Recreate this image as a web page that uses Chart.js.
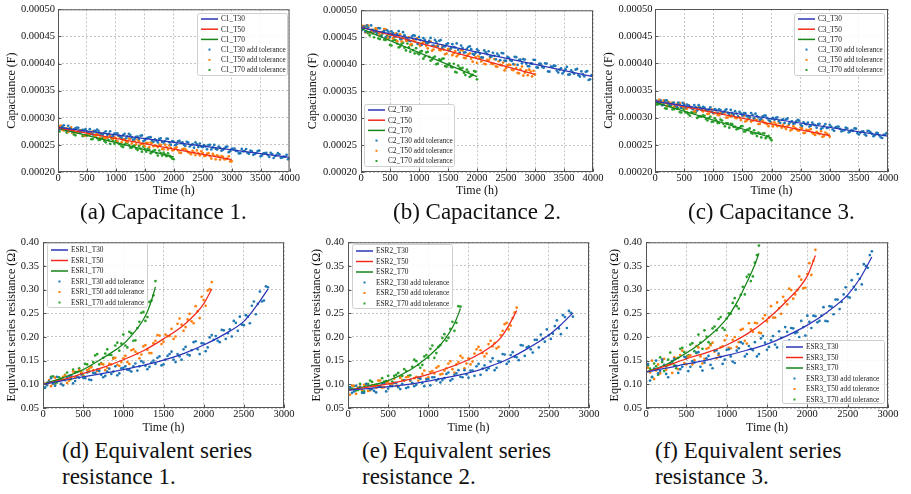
<!DOCTYPE html>
<html>
<head>
<meta charset="utf-8">
<script src="https://cdn.jsdelivr.net/npm/chart.js@4.4.0/dist/chart.umd.min.js"></script>
<style>
  body { margin: 0; background: #fff; width: 911px; height: 494px; position: relative; overflow: hidden;
         font-family: "Liberation Serif", "Times New Roman", serif; }
  .panel { position: absolute; }
  .panel canvas { display: block; }
  .cap { position: absolute; font-size: 23px; line-height: 26px; color: #111; white-space: nowrap; }
</style>
</head>
<body>
<div class="panel" style="left:0px;top:0px"><canvas id="cA" width="300" height="200"></canvas></div>
<div class="panel" style="left:300px;top:0px"><canvas id="cB" width="305" height="200"></canvas></div>
<div class="panel" style="left:598px;top:0px"><canvas id="cC" width="313" height="200"></canvas></div>
<div class="panel" style="left:0px;top:232px"><canvas id="cD" width="300" height="205"></canvas></div>
<div class="panel" style="left:300px;top:232px"><canvas id="cE" width="305" height="205"></canvas></div>
<div class="panel" style="left:600px;top:232px"><canvas id="cF" width="311" height="205"></canvas></div>

<div class="cap" style="left:80px;top:199px">(a) Capacitance 1.</div>
<div class="cap" style="left:393px;top:199px">(b) Capacitance 2.</div>
<div class="cap" style="left:688px;top:199px">(c) Capacitance 3.</div>
<div class="cap" style="left:62px;top:438px">(d) Equivalent series<br>resistance 1.</div>
<div class="cap" style="left:362px;top:438px">(e) Equivalent series<br>resistance 2.</div>
<div class="cap" style="left:655px;top:438px">(f) Equivalent series<br>resistance 3.</div>

<script>
const SERIF = '"Liberation Serif", "Times New Roman", serif';

// sample times (h): readings on the 50 h grid, plus the in-between readings at +25 h
function steps(end) { const a = []; for (let t = 0; t <= end; t += 50) a.push(t); return a; }
function halfSteps(end) { const a = []; for (let t = 25; t < end; t += 50) a.push(t); return a; }
const tCap30 = steps(4000), tCap50 = steps(3000), tCap70 = steps(2000);
const tCap30b = halfSteps(4000), tCap50b = halfSteps(3000), tCap70b = halfSteps(2000);
const tEsr30 = steps(2800), tEsr50 = steps(2100), tEsr70 = steps(1400);
const tEsr30b = halfSteps(2800), tEsr50b = halfSteps(2100), tEsr70b = halfSteps(1400);

const capTicksX = [0, 500, 1000, 1500, 2000, 2500, 3000, 3500, 4000];
const esrTicksX = [0, 500, 1000, 1500, 2000, 2500, 3000];

// ---- capacitance, values in µF ----
const c1Line30 = [282.5, 227.0], c1Line50 = [281.5, 223.0], c1Line70 = [280.5, 228.0];
const c2Line30 = [468.0, 377.0], c2Line50 = [469.0, 381.0], c2Line70 = [466.0, 377.0];
const c3Line30 = [330.0, 266.0], c3Line50 = [331.0, 267.0], c3Line70 = [328.0, 263.0];

const c1s30 = [285.5,279.8,286.1,276.4,280.7,274.0,280.3,281.6,273.9,276.3,
  274.6,278.9,269.2,275.5,275.8,268.1,272.4,268.7,275.0,266.3,
  270.6,266.9,263.2,270.5,265.8,268.2,259.5,264.8,261.1,267.4,
  258.7,263.0,264.3,255.6,257.9,261.2,255.5,256.8,261.1,250.4,
  255.7,251.0,257.4,254.7,248.0,254.3,249.6,244.9,251.2,252.5,
  245.8,247.1,249.4,241.7,250.0,241.3,244.6,240.9,246.2,236.6,
  242.9,243.2,238.5,234.8,238.1,242.4,233.7,238.0,233.3,238.6,
  228.9,234.2,235.5,227.8,233.1,229.4,234.8,226.1,228.4,231.7,225.0];
const c1s30b = [278.2,283.5,279.8,285.1,276.4,278.7,282.0,272.3,277.6,278.9,
  273.3,270.6,275.9,278.2,271.5,268.8,275.1,270.4,264.7,271.0,
  271.3,265.6,267.9,262.2,270.5,263.8,261.2,265.5,266.8,257.1,
  261.4,263.7,258.0,260.3,254.6,261.9,254.2,261.5,254.8,257.1,
  249.4,256.7,253.1,250.4,255.7,247.0,251.3,254.6,245.9,247.2,
  249.5,241.8,250.1,245.4,242.7,247.0,239.3,243.6,246.9,238.3,
  242.6,238.9,234.2,242.5,238.8,235.1,239.4,231.7,235.0,239.3,
  230.6,234.9,231.2,235.5,225.8,231.1,232.5,226.8,228.1,223.4];
const c1s50 = [279.5,285.5,276.6,280.6,276.6,272.6,279.7,274.7,276.7,267.7,
  272.8,268.8,274.8,265.8,269.9,270.9,261.9,263.9,266.9,261.0,
  262.0,266.0,255.0,260.1,255.1,261.1,258.2,251.2,257.2,252.2,
  247.3,253.3,254.3,247.3,248.4,250.4,242.4,250.4,241.5,244.5,
  240.5,245.5,235.6,241.6,241.6,236.6,232.7,235.7,239.7,230.7,
  234.8,229.8,234.8,224.8,229.9,230.9,222.9,227.9,223.9,229.0,220.0];
const c1s50b = [284.0,278.0,280.1,274.1,282.1,275.1,272.2,276.2,277.2,267.2,
  271.3,273.3,267.3,269.3,263.4,270.4,262.4,269.4,262.5,264.5,
  256.5,263.5,259.6,256.6,261.6,252.6,256.7,259.7,250.7,251.7,
  253.8,245.8,253.8,248.8,245.9,249.9,241.9,245.9,249.0,240.0,
  244.0,240.0,235.1,243.1,239.1,235.1,239.2,231.2,234.2,238.2,
  229.3,233.3,229.3,233.3,223.4,228.4,229.4,223.4,224.5,219.5];
const c1s70 = [277.5,283.2,279.9,272.6,278.3,272.9,267.6,273.3,274.0,266.7,
  267.4,269.1,260.8,268.4,259.1,261.8,257.5,262.2,251.9,257.6,
  257.3,251.9,247.6,250.3,254.0,244.7,248.4,243.1,247.8,237.4,
  242.1,242.8,234.5,239.2,234.9,239.6,230.3,231.9,234.6,227.3,223.5];
const c1s70b = [274.8,281.5,277.2,273.9,278.6,269.2,272.9,275.6,266.3,267.0,
  268.7,260.4,268.1,262.7,259.4,263.1,254.8,258.5,261.2,251.9,
  255.6,251.2,245.9,253.6,249.3,245.0,248.7,240.4,243.1,246.7,
  237.4,241.1,236.8,240.5,230.2,234.9,235.6,229.2,229.9,224.6];

const c2s30 = [460.0,469.9,471.7,459.6,463.5,460.3,467.2,452.0,461.9,462.8,
  450.6,457.5,451.4,461.2,447.1,453.9,447.8,442.7,453.5,446.4,
  450.3,436.1,445.0,438.8,448.7,434.6,441.4,443.3,430.2,433.0,
  438.9,429.7,431.6,438.5,421.3,430.2,422.1,431.9,427.8,417.6,
  427.5,419.4,412.2,422.1,424.0,413.8,415.7,419.5,407.4,420.3,
  406.1,412.0,405.9,413.7,398.6,408.4,409.3,401.2,396.0,400.9,
  407.8,393.6,400.5,393.3,401.2,386.1,394.9,396.8,384.7,392.5,
  386.4,395.2,381.1,385.0,389.8,379.7,386.6,377.4,387.3,372.1,379.0];
const c2s30b = [464.4,460.3,468.1,472.0,460.9,456.7,466.6,459.4,450.3,460.2,
  461.0,451.9,455.8,446.6,459.5,448.3,444.2,451.1,452.9,437.8,
  444.7,448.5,439.4,443.2,434.1,445.0,432.8,444.7,433.6,437.4,
  425.3,437.1,431.0,426.9,434.7,421.6,428.5,433.3,419.2,421.0,
  424.9,412.8,425.6,418.5,414.4,421.2,409.1,415.9,420.8,406.7,
  413.5,407.4,400.3,413.1,408.0,401.8,408.7,396.6,401.4,408.3,
  394.2,401.0,394.9,401.7,386.6,395.5,397.3,388.2,390.1,382.9,
  390.8,380.6,388.5,382.4,391.2,377.1,381.0,385.8,370.7,379.6];
const c2s50 = [464.0,470.5,472.1,458.6,461.1,466.7,457.2,458.7,465.3,447.8,
  456.3,447.9,457.4,452.9,442.5,452.0,443.5,436.1,445.6,447.1,
  436.7,438.2,441.7,429.3,441.8,427.3,432.9,426.4,433.9,418.5,
  428.0,428.5,420.1,414.6,419.1,425.7,411.2,417.7,410.3,417.8,
  402.3,410.9,412.4,399.9,407.5,401.0,409.5,395.1,398.6,403.1,
  392.7,399.2,389.7,399.3,383.8,390.3,378.9,388.4,389.9,377.5,381.0];
const c2s50b = [471.3,458.8,471.4,463.9,459.4,466.0,453.5,460.0,464.6,450.1,
  456.6,450.2,442.7,455.2,449.8,443.3,449.8,437.4,441.9,448.4,
  434.0,440.5,434.0,440.6,425.1,433.6,435.2,425.7,427.2,419.8,
  427.3,416.8,424.4,417.9,426.4,412.0,415.5,420.0,404.6,413.1,
  414.6,405.2,400.7,408.2,411.8,400.3,395.8,405.4,397.9,388.4,
  398.0,398.5,389.0,392.6,383.1,395.6,384.2,379.7,386.2,387.8];
const c2s70 = [469.0,468.8,459.6,453.3,457.1,462.9,447.7,453.4,445.2,452.0,
  435.8,443.5,444.3,431.1,437.9,430.6,438.4,423.2,426.0,429.7,
  418.5,424.3,414.1,422.8,406.6,412.4,400.1,408.9,409.7,396.5,
  399.3,395.0,400.8,384.6,393.4,393.1,379.9,385.7,378.5,387.2,372.0];
const c2s70b = [464.9,467.7,457.5,460.2,450.0,459.8,446.6,457.3,445.1,447.9,
  434.7,445.4,438.2,433.0,439.8,425.5,431.3,435.1,419.9,420.6,
  423.4,410.2,421.9,413.7,408.5,414.3,401.0,406.8,410.6,395.4,
  401.1,393.9,385.7,397.5,391.2,384.0,389.8,376.6,380.3,386.1];

const c3s30 = [328.0,329.2,331.4,323.6,331.8,323.0,326.2,322.4,327.6,317.8,
  324.0,324.2,319.4,315.6,318.8,323.0,314.2,318.4,313.6,318.8,
  309.0,314.2,315.4,307.6,312.8,309.0,314.2,305.4,307.6,310.8,
  304.0,308.2,302.4,308.6,298.8,303.0,296.2,302.4,303.6,295.8,
  298.0,296.2,300.4,290.6,296.8,297.0,289.2,293.4,289.6,295.8,
  287.0,291.2,287.4,283.6,290.8,286.0,288.2,279.4,284.6,280.8,
  287.0,278.2,282.4,283.6,274.8,277.0,280.2,274.4,275.6,279.8,
  269.0,274.2,269.4,275.6,272.8,266.0,272.2,267.4,262.6,268.8,270.0];
const c3s30b = [331.6,327.8,323.0,331.2,327.4,323.6,327.8,320.0,323.2,327.4,
  318.6,322.8,319.0,323.2,313.4,318.6,319.8,314.0,315.2,310.4,
  315.6,308.8,314.0,310.2,315.4,306.6,308.8,312.0,302.2,307.4,
  308.6,302.8,300.0,305.2,307.4,300.6,297.8,304.0,299.2,293.4,
  299.6,299.8,294.0,296.2,290.4,298.6,291.8,289.0,293.2,294.4,
  284.6,288.8,291.0,285.2,287.4,281.6,288.8,281.0,288.2,281.4,
  283.6,275.8,283.0,279.2,276.4,281.6,272.8,277.0,280.2,271.4,
  272.6,274.8,267.0,275.2,270.4,267.6,271.8,264.0,268.2,271.4];
const c3s50 = [328.0,329.9,327.9,331.8,321.7,327.7,327.6,319.5,323.5,319.4,
  325.3,316.3,320.2,316.1,312.1,319.0,313.9,315.9,306.8,311.7,
  307.7,313.6,304.5,308.5,309.4,300.3,302.3,305.2,299.1,300.1,
  304.0,292.9,297.9,292.8,298.7,295.7,288.6,294.5,289.5,284.4,
  290.3,291.3,284.2,285.1,287.1,279.0,286.9,277.9,280.8,276.7,
  281.7,271.6,277.5,277.5,272.4,268.3,271.3,275.2,266.1,270.1,265.0];
const c3s50b = [330.5,333.4,323.4,328.3,329.2,323.2,320.1,325.0,327.0,319.9,
  316.8,322.8,317.7,311.6,317.6,317.5,311.4,313.4,307.3,315.2,
  308.2,305.1,309.0,310.0,299.9,303.8,305.8,299.7,301.6,295.6,
  303.5,294.4,301.4,294.3,296.2,288.2,295.1,291.0,288.0,292.9,
  283.8,287.8,290.7,281.6,282.6,284.5,276.4,284.4,279.3,276.2,
  280.2,272.1,276.0,279.0,269.9,273.8,269.8,264.7,272.6,268.6];
const c3s70 = [331.0,324.4,324.8,328.1,316.5,320.9,315.3,320.6,317.0,309.4,
  314.8,309.1,303.5,308.9,309.3,301.6,302.0,303.4,294.8,302.1,
  292.5,294.9,290.3,294.6,284.0,289.4,288.8,283.1,278.5,280.9,
  284.3,274.6,278.0,272.4,276.8,266.1,270.5,270.9,262.3,266.6,258.5];
const c3s70b = [324.2,329.6,323.9,317.3,322.7,322.1,315.5,316.8,310.2,317.6,
  310.0,306.3,309.7,310.1,299.5,302.8,304.2,297.6,299.0,292.3,
  298.7,290.1,296.5,288.8,290.2,281.6,288.0,283.3,279.7,284.1,
  274.5,277.8,280.2,270.6,271.0,272.3,263.7,271.1,265.5,261.8];

// ---- ESR, values in ohm ----
const e1LineT30 = [0,250,500,750,1000,1250,1500,1750,2000,2250,2500,2650,2800];
const e1Line30  = [0.100,0.108,0.116,0.123,0.131,0.140,0.151,0.165,0.183,0.205,0.233,0.264,0.301];
const e1LineT50 = [0,250,500,750,1000,1250,1500,1750,1900,2000,2100];
const e1Line50  = [0.100,0.110,0.123,0.136,0.152,0.171,0.196,0.225,0.249,0.270,0.301];
const e1LineT70 = [0,250,500,750,1000,1150,1200,1250,1300,1350,1400];
const e1Line70  = [0.100,0.114,0.131,0.156,0.185,0.213,0.224,0.237,0.254,0.277,0.306];

const e2LineT30 = [0,250,500,750,1000,1250,1500,1750,2000,2250,2500,2650,2800];
const e2Line30  = [0.0875,0.091,0.095,0.100,0.107,0.115,0.124,0.137,0.154,0.177,0.204,0.226,0.251];
const e2LineT50 = [0,250,500,750,1000,1250,1500,1750,1900,2000,2100];
const e2Line50  = [0.0875,0.094,0.101,0.110,0.121,0.135,0.152,0.176,0.198,0.224,0.256];
const e2LineT70 = [0,250,500,750,1000,1150,1200,1250,1300,1350,1400];
const e2Line70  = [0.0875,0.097,0.108,0.128,0.159,0.183,0.194,0.206,0.220,0.238,0.260];

const e3LineT30 = [0,250,500,750,1000,1250,1500,1750,2000,2250,2500,2650,2800];
const e3Line30  = [0.126,0.134,0.143,0.151,0.161,0.172,0.185,0.203,0.225,0.253,0.289,0.323,0.369];
const e3LineT50 = [0,250,500,750,1000,1250,1500,1750,2000,2100];
const e3Line50  = [0.126,0.139,0.154,0.167,0.183,0.206,0.237,0.277,0.329,0.372];
const e3LineT70 = [0,250,500,750,1000,1150,1250,1350,1400];
const e3Line70  = [0.126,0.142,0.166,0.197,0.239,0.280,0.315,0.353,0.377];

const e1s30 = [.106,.098,.113,.097,.108,.098,.114,.119,.107,.114,
  .114,.125,.109,.124,.128,.115,.127,.122,.138,.123,
  .135,.131,.127,.144,.138,.146,.132,.146,.143,.159,
  .142,.160,.169,.147,.159,.174,.163,.172,.191,.164,
  .186,.178,.204,.202,.189,.214,.208,.201,.230,.243,
  .225,.243,.266,.248,.296,.277,.305];
const e1s30b = [.093,.106,.102,.116,.101,.109,.118,.102,.116,.121,
  .113,.110,.124,.131,.120,.118,.133,.127,.119,.134,
  .138,.130,.138,.129,.149,.139,.137,.150,.156,.140,
  .152,.164,.152,.164,.152,.179,.161,.189,.174,.187,
  .170,.199,.194,.192,.215,.196,.216,.234,.213,.226,
  .246,.229,.275,.270,.275,.307];
const e1s50 = [.104,.100,.096,.114,.108,.116,.103,.117,.114,.130,
  .117,.130,.136,.123,.131,.142,.135,.142,.156,.139,
  .155,.147,.172,.169,.155,.180,.173,.166,.192,.203,
  .190,.202,.217,.201,.239,.213,.237,.233,.265,.240,
  .278,.298,.316];
const e1s50b = [.101,.109,.101,.109,.101,.119,.108,.127,.117,.126,
  .114,.133,.130,.128,.143,.130,.143,.154,.141,.147,
  .160,.143,.174,.165,.163,.183,.166,.187,.204,.185,
  .205,.202,.196,.228,.226,.221,.249,.229,.254,.285,
  .266,.301];
const e1s70 = [.092,.103,.116,.102,.115,.110,.125,.111,.126,.134,
  .119,.142,.138,.161,.142,.156,.174,.162,.182,.171,
  .205,.178,.208,.193,.232,.253,.242,.277,.318];
const e1s70b = [.093,.106,.117,.104,.111,.120,.109,.131,.126,.125,
  .143,.127,.147,.164,.145,.165,.162,.156,.188,.186,
  .182,.211,.192,.219,.251,.234,.274,.288];

const e2s30 = [.090,.082,.097,.094,.082,.097,.090,.083,.097,.102,
  .091,.096,.103,.090,.109,.094,.103,.099,.112,.096,
  .111,.115,.108,.104,.113,.125,.111,.123,.116,.130,
  .114,.129,.138,.120,.140,.134,.155,.135,.147,.163,
  .148,.168,.157,.183,.160,.180,.167,.194,.205,.190,
  .204,.207,.235,.206,.242,.255,.243];
const e2s30b = [.094,.085,.091,.082,.101,.089,.086,.097,.102,.085,
  .096,.103,.094,.101,.092,.109,.096,.114,.103,.110,
  .098,.115,.111,.109,.122,.108,.120,.130,.115,.121,
  .129,.118,.143,.133,.130,.148,.130,.149,.164,.143,
  .162,.158,.151,.182,.178,.174,.194,.178,.196,.216,
  .196,.223,.218,.246,.219,.251];
const e2s50 = [.086,.097,.080,.095,.099,.086,.098,.093,.108,.094,
  .105,.101,.097,.114,.108,.116,.102,.116,.113,.129,
  .115,.128,.135,.121,.129,.144,.132,.142,.160,.134,
  .155,.148,.174,.172,.159,.185,.180,.176,.204,.227,
  .216,.240,.262];
const e2s50b = [.078,.097,.093,.088,.099,.087,.096,.108,.093,.104,
  .100,.112,.096,.109,.115,.107,.113,.108,.122,.112,
  .126,.123,.138,.122,.134,.149,.125,.147,.156,.144,
  .142,.165,.179,.166,.165,.192,.187,.179,.213,.230,
  .224,.252];
const e2s70 = [.082,.091,.087,.101,.085,.101,.105,.099,.096,.106,
  .118,.106,.120,.116,.132,.118,.137,.149,.135,.159,
  .156,.182,.166,.183,.206,.198,.232,.230,.264];
const e2s70b = [.091,.096,.088,.086,.100,.108,.098,.097,.113,.107,
  .100,.118,.124,.118,.128,.119,.152,.141,.141,.162,
  .175,.156,.179,.198,.192,.217,.213,.265];

const e3s30 = [.138,.108,.133,.123,.152,.122,.144,.154,.124,.137,
  .155,.137,.146,.168,.129,.155,.141,.171,.165,.143,
  .173,.159,.145,.176,.186,.164,.175,.189,.164,.202,
  .173,.193,.184,.212,.179,.211,.219,.208,.200,.221,
  .245,.219,.244,.234,.263,.233,.264,.279,.259,.290,
  .285,.320,.300,.323,.354,.346,.381];
const e3s30b = [.143,.116,.150,.128,.141,.115,.149,.139,.132,.158,
  .128,.149,.167,.137,.146,.160,.134,.172,.158,.152,
  .174,.148,.171,.189,.159,.181,.172,.159,.197,.188,
  .179,.202,.178,.198,.221,.193,.218,.210,.234,.203,
  .232,.245,.231,.245,.234,.265,.248,.279,.274,.305,
  .283,.306,.333,.311,.350,.373];
const e3s50 = [.138,.125,.111,.142,.152,.131,.142,.157,.132,.171,
  .142,.161,.151,.178,.144,.175,.182,.169,.161,.180,
  .203,.176,.200,.189,.217,.186,.216,.230,.209,.239,
  .233,.265,.241,.261,.285,.269,.299,.290,.328,.303,
  .333,.331,.384];
const e3s50b = [.135,.150,.129,.123,.154,.141,.124,.155,.162,.145,
  .159,.142,.181,.159,.154,.177,.188,.155,.178,.193,
  .177,.194,.179,.215,.192,.229,.211,.229,.208,.246,
  .241,.241,.273,.249,.277,.302,.281,.299,.321,.304,
  .356,.361];
const e3s70 = [.106,.133,.144,.120,.147,.138,.167,.140,.156,.177,
  .158,.184,.170,.205,.175,.201,.185,.222,.238,.219,
  .239,.249,.282,.260,.306,.327,.318,.357,.393];
const e3s70b = [.140,.115,.138,.157,.128,.152,.145,.134,.175,.168,
  .161,.187,.166,.188,.214,.189,.218,.214,.242,.215,
  .250,.272,.265,.289,.290,.332,.328,.373];

const LINE_COLORS = ['#2b35b8', '#f02a1e', '#17851a'];
const DOT_COLORS = ['#1f77b4', '#ff7f0e', '#2ca02c'];

// frame + inward ticks, matplotlib style
const framePlugin = {
  id: 'frame',
  afterDraw(chart) {
    const { ctx, chartArea: a, scales } = chart;
    ctx.save();
    ctx.strokeStyle = '#555';
    ctx.lineWidth = 1;
    ctx.setLineDash([]);
    ctx.strokeRect(a.left + 0.5, a.top + 0.5, a.right - a.left - 1, a.bottom - a.top - 1);
    ctx.beginPath();
    scales.x.ticks.forEach(t => {
      const x = Math.round(scales.x.getPixelForValue(t.value)) + 0.5;
      ctx.moveTo(x, a.bottom); ctx.lineTo(x, a.bottom - 3.5);
    });
    scales.y.ticks.forEach(t => {
      const y = Math.round(scales.y.getPixelForValue(t.value)) + 0.5;
      ctx.moveTo(a.left, y); ctx.lineTo(a.left + 3.5, y);
    });
    ctx.stroke();
    ctx.restore();
  }
};

// legend drawn inside the plot like the original
const boxLegend = {
  id: 'boxLegend',
  afterDraw(chart, args, opts) {
    const b = opts.box;
    if (!b) return;
    const ctx = chart.ctx;
    ctx.save();
    ctx.fillStyle = 'rgba(255,255,255,0.85)';
    ctx.strokeStyle = '#cfcfcf';
    ctx.lineWidth = 1;
    ctx.beginPath();
    ctx.roundRect(b.x + 0.5, b.y + 0.5, b.w, b.h, 2);
    ctx.fill();
    ctx.stroke();
    ctx.font = '7.3px ' + SERIF;
    ctx.textBaseline = 'middle';
    chart.data.datasets.forEach((ds, i) => {
      const y = b.y + b.first + i * b.row;
      if (ds.type === 'line') {
        ctx.strokeStyle = ds.borderColor;
        ctx.lineWidth = 1.5;
        ctx.beginPath(); ctx.moveTo(b.x + 4, y); ctx.lineTo(b.x + 21, y); ctx.stroke();
      } else {
        ctx.fillStyle = ds.backgroundColor;
        ctx.fillRect(b.x + 11.5, y - 1, 2, 2);
      }
      ctx.fillStyle = '#222';
      ctx.fillText(ds.label, b.x + 24, y + 0.5);
    });
    ctx.restore();
  }
};

function pts(t, v) { return t.map((x, j) => ({ x, y: v[j] })); }

function makePanel(p) {
  const datasets = [];
  p.lines.forEach((ln, i) => {
    datasets.push({
      type: 'line', label: p.names[i], data: pts(ln.t, ln.v),
      borderColor: LINE_COLORS[i], borderWidth: 1.25, pointRadius: 0,
      fill: false, cubicInterpolationMode: 'monotone', order: 0
    });
  });
  p.dots.forEach((d, i) => {
    datasets.push({
      type: 'scatter', label: p.names[i] + ' add tolerance',
      data: pts(d.t, d.v).concat(pts(d.tb, d.vb)),
      backgroundColor: DOT_COLORS[i], borderWidth: 0, pointRadius: 1.35, order: 1
    });
  });

  new Chart(document.getElementById(p.id), {
    type: 'scatter',
    data: { datasets },
    plugins: [framePlugin, boxLegend],
    options: {
      responsive: false, animation: false, devicePixelRatio: 1,
      layout: { padding: { top: p.areaTop, right: p.padRight, left: 0, bottom: 0 } },
      plugins: { legend: { display: false }, tooltip: { enabled: false }, boxLegend: { box: p.legend } },
      scales: {
        x: {
          type: 'linear', min: 0, max: p.xTicks[p.xTicks.length - 1],
          afterFit: s => { s.height = p.xH; },
          afterBuildTicks: s => { s.ticks = p.xTicks.map(v => ({ value: v })); },
          ticks: { padding: 0, color: '#111', autoSkip: false, maxRotation: 0,
                   font: { family: SERIF, size: 10.5 }, callback: v => String(v) },
          grid: { color: '#b5b5b5', lineWidth: 0.8, drawTicks: false },
          border: { display: false, dash: [2, 2] },
          title: { display: true, text: 'Time (h)', color: '#111',
                   font: { family: SERIF, size: 12 }, padding: { top: 0, bottom: p.xTitlePad } }
        },
        y: {
          type: 'linear', min: p.yTicks[0], max: p.yTicks[p.yTicks.length - 1],
          afterFit: s => { s.width = p.yW; },
          afterBuildTicks: s => { s.ticks = p.yTicks.map(v => ({ value: v })); },
          ticks: { padding: p.yTickPad, color: '#111', font: { family: SERIF, size: 10.5 },
                   callback: p.yFmt },
          grid: { color: '#b5b5b5', lineWidth: 0.8, drawTicks: false },
          border: { display: false, dash: [2, 2] },
          title: { display: true, text: p.yTitle, color: '#111',
                   font: { family: SERIF, size: 12 }, padding: { top: p.yTitlePad, bottom: 0 } }
        }
      }
    }
  });
}

const capTicksY = [200, 250, 300, 350, 400, 450, 500];          // µF
const esrTicksY = [0.05, 0.10, 0.15, 0.20, 0.25, 0.30, 0.35, 0.40];
const capFmt = v => (v / 1e6).toFixed(5);
const esrFmt = v => v.toFixed(2);

const capBase = { xTicks: capTicksX, yTicks: capTicksY, yFmt: capFmt, yTitle: 'Capacitance (F)', areaTop: 9, xH: 28, xTitlePad: 2 };
const esrBase = { xTicks: esrTicksX, yTicks: esrTicksY, yFmt: esrFmt, yTitle: 'Equivalent series resistance (Ω)', areaTop: 9, xH: 29, xTitlePad: 1.8 };

function capLines(a, b, c) {
  return [{ t: [0, 4000], v: a }, { t: [0, 3000], v: b }, { t: [0, 2000], v: c }];
}
function capDots(a, ab, b, bb, c, cb) {
  return [{ t: tCap30, v: a, tb: tCap30b, vb: ab }, { t: tCap50, v: b, tb: tCap50b, vb: bb },
          { t: tCap70, v: c, tb: tCap70b, vb: cb }];
}
function esrDots(a, ab, b, bb, c, cb) {
  return [{ t: tEsr30, v: a, tb: tEsr30b, vb: ab }, { t: tEsr50, v: b, tb: tEsr50b, vb: bb },
          { t: tEsr70, v: c, tb: tEsr70b, vb: cb }];
}

makePanel(Object.assign({}, capBase, {
  id: 'cA', padRight: 10, yW: 58, yTickPad: 3, yTitlePad: 4.8,
  names: ['C1_T30', 'C1_T50', 'C1_T70'],
  lines: capLines(c1Line30, c1Line50, c1Line70),
  dots: capDots(c1s30, c1s30b, c1s50, c1s50b, c1s70, c1s70b),
  legend: { x: 197, y: 13, w: 90, h: 62, first: 6, row: 10.2 }
}));
makePanel(Object.assign({}, capBase, {
  id: 'cB', padRight: 12, yW: 61, yTickPad: 4, yTitlePad: 5.8,
  names: ['C2_T30', 'C2_T50', 'C2_T70'],
  lines: capLines(c2Line30, c2Line50, c2Line70),
  dots: capDots(c2s30, c2s30b, c2s50, c2s50b, c2s70, c2s70b),
  legend: { x: 64, y: 104, w: 90, h: 62, first: 6, row: 10.2 }
}));
makePanel(Object.assign({}, capBase, {
  id: 'cC', padRight: 23, yW: 57, yTickPad: 2.5, yTitlePad: 3.8,
  names: ['C3_T30', 'C3_T50', 'C3_T70'],
  lines: capLines(c3Line30, c3Line50, c3Line70),
  dots: capDots(c3s30, c3s30b, c3s50, c3s50b, c3s70, c3s70b),
  legend: { x: 196, y: 13, w: 90, h: 62, first: 6, row: 10.2 }
}));
makePanel(Object.assign({}, esrBase, {
  id: 'cD', padRight: 16, yW: 43, yTickPad: 4, yTitlePad: 4.5,
  names: ['ESR1_T30', 'ESR1_T50', 'ESR1_T70'],
  lines: [{ t: e1LineT30, v: e1Line30 }, { t: e1LineT50, v: e1Line50 }, { t: e1LineT70, v: e1Line70 }],
  dots: esrDots(e1s30, e1s30b, e1s50, e1s50b, e1s70, e1s70b),
  legend: { x: 47, y: 11, w: 100, h: 64, first: 7, row: 10.5 }
}));
makePanel(Object.assign({}, esrBase, {
  id: 'cE', padRight: 16, yW: 48, yTickPad: 4, yTitlePad: 9.8,
  names: ['ESR2_T30', 'ESR2_T50', 'ESR2_T70'],
  lines: [{ t: e2LineT30, v: e2Line30 }, { t: e2LineT50, v: e2Line50 }, { t: e2LineT70, v: e2Line70 }],
  dots: esrDots(e2s30, e2s30b, e2s50, e2s50b, e2s70, e2s70b),
  legend: { x: 52, y: 12, w: 100, h: 64, first: 7, row: 10.5 }
}));
makePanel(Object.assign({}, esrBase, {
  id: 'cF', padRight: 23, yW: 46, yTickPad: 4, yTitlePad: 7.8,
  names: ['ESR3_T30', 'ESR3_T50', 'ESR3_T70'],
  lines: [{ t: e3LineT30, v: e3Line30 }, { t: e3LineT50, v: e3Line50 }, { t: e3LineT70, v: e3Line70 }],
  dots: esrDots(e3s30, e3s30b, e3s50, e3s50b, e3s70, e3s70b),
  legend: { x: 182, y: 108, w: 102, h: 63, first: 7, row: 10.5 }
}));
</script>
</body>
</html>
